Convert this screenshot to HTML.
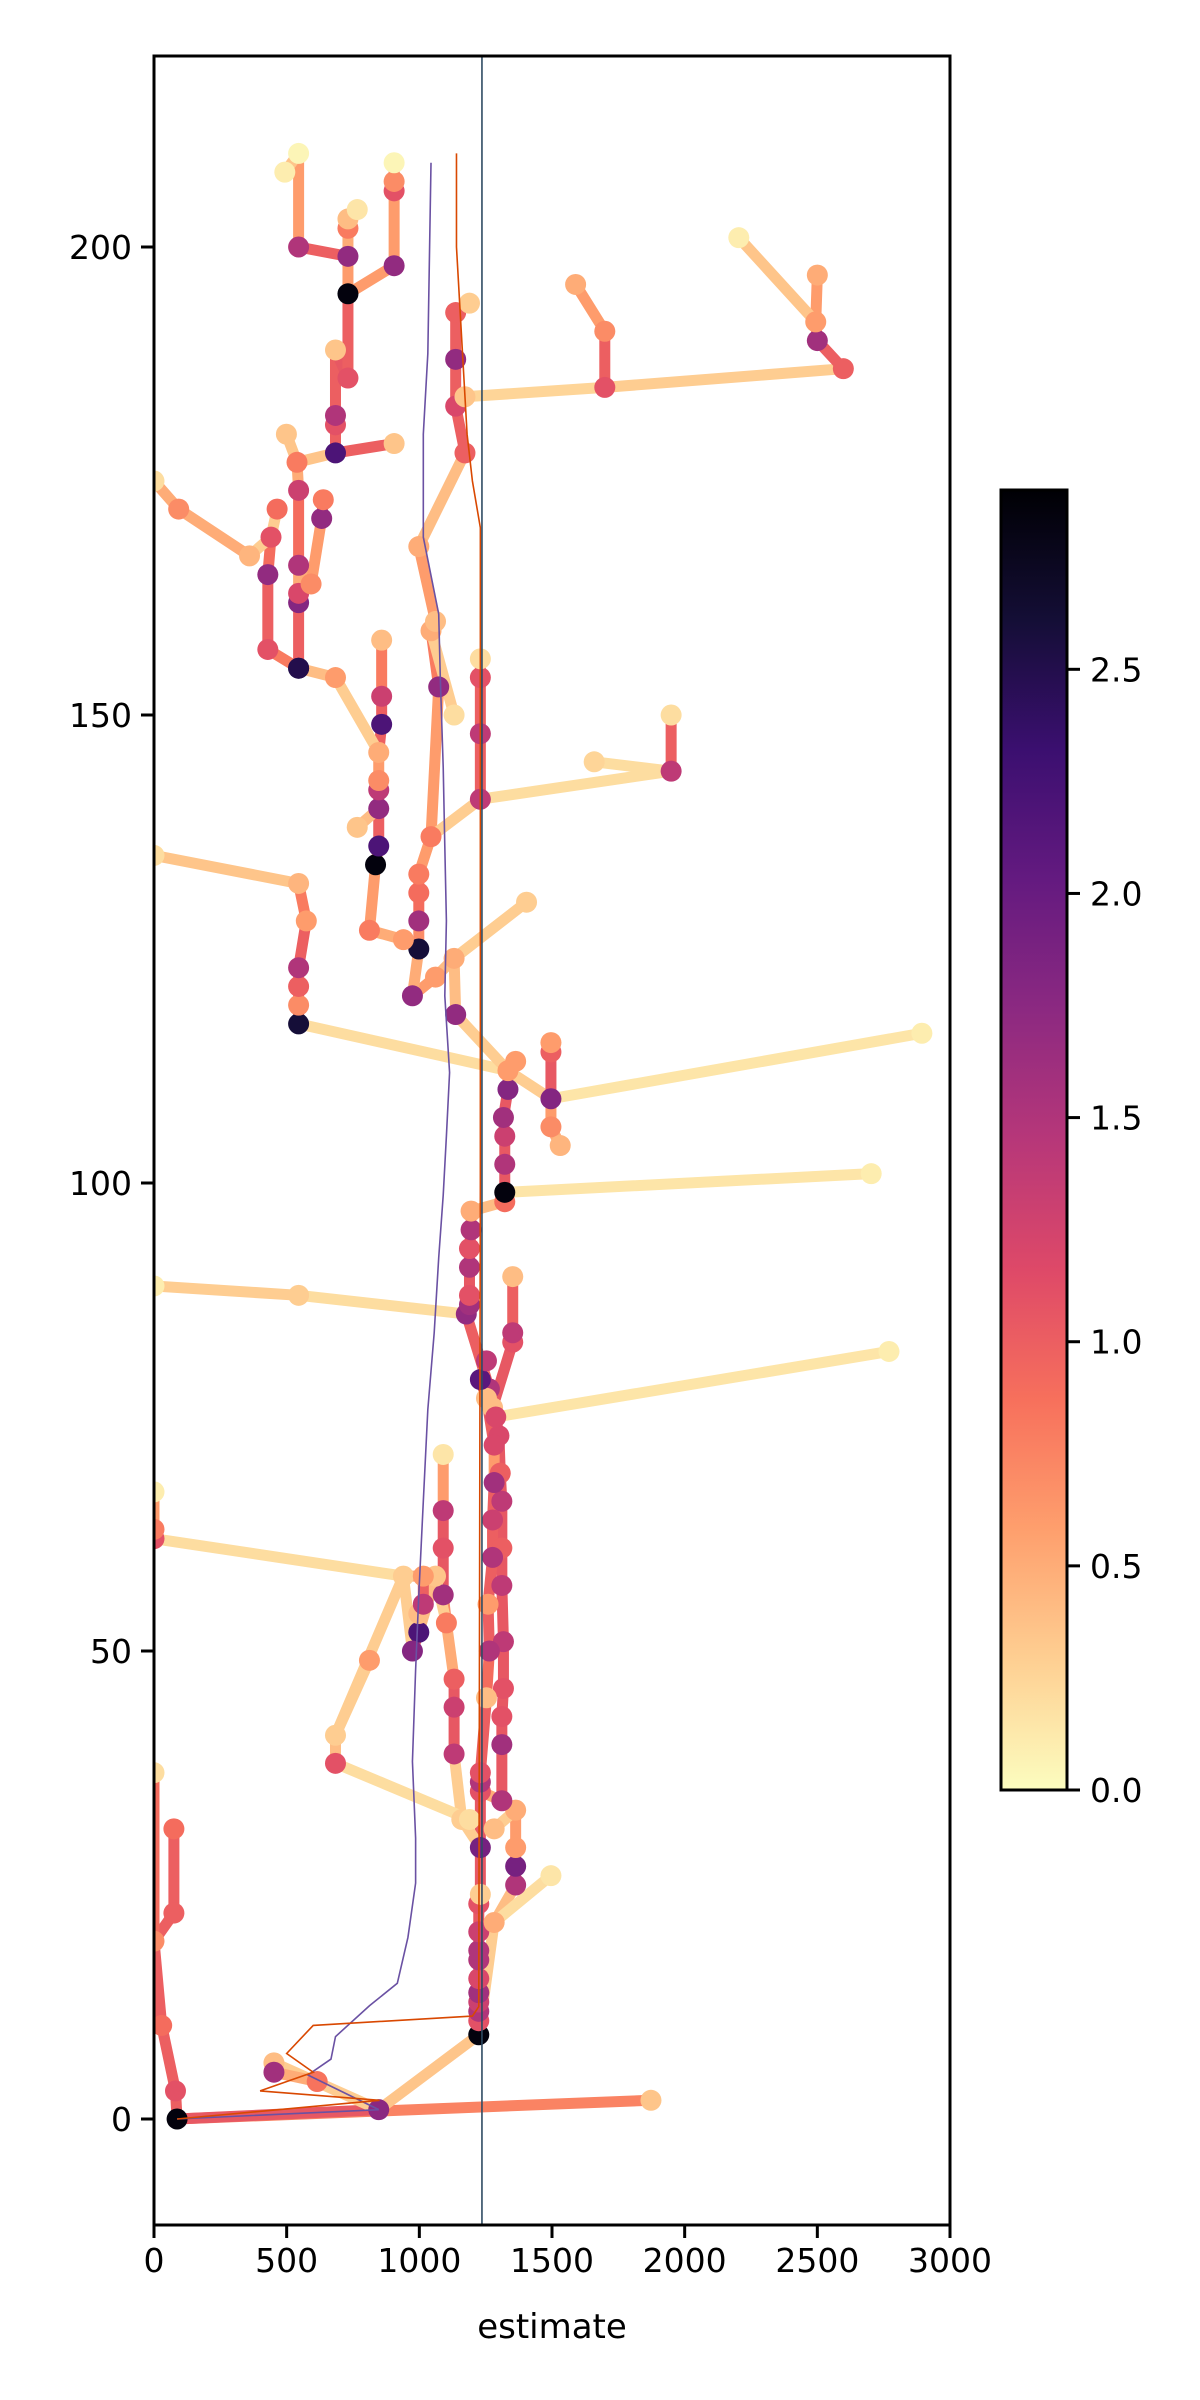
<!DOCTYPE html>
<html><head><meta charset="utf-8"><style>
html,body{margin:0;padding:0;background:#fff;}
svg{display:block;font-family:"DejaVu Sans","Liberation Sans",sans-serif;}
</style></head>
<body>
<svg id="chart" width="1200" height="2400" viewBox="0 0 1200 2400" xmlns="http://www.w3.org/2000/svg">
<defs>
<linearGradient id="cbgrad" x1="0" y1="1" x2="0" y2="0">
<stop offset="0" stop-color="#fcfdbf"/><stop offset="0.1" stop-color="#fecf92"/><stop offset="0.2" stop-color="#fe9f6d"/><stop offset="0.3" stop-color="#f7705c"/><stop offset="0.4" stop-color="#de4968"/><stop offset="0.5" stop-color="#b73779"/><stop offset="0.6" stop-color="#8c2981"/><stop offset="0.7" stop-color="#641a80"/><stop offset="0.8" stop-color="#3b0f70"/><stop offset="0.9" stop-color="#140e36"/><stop offset="1" stop-color="#000004"/>
</linearGradient>
<clipPath id="plotclip"><rect x="154" y="56" width="796" height="2169"/></clipPath>
</defs>
<g id="marks" clip-path="url(#plotclip)"></g>
<rect x="154" y="56" width="796" height="2169" fill="none" stroke="#000" stroke-width="3"/>
<g id="axes"></g>
<rect x="1001" y="490" width="66" height="1300" fill="url(#cbgrad)" stroke="#000" stroke-width="3"/>
<g id="cbaxis"></g>
<text x="552" y="2338" font-size="34" text-anchor="middle">estimate</text>
</svg>
<script>
// data: node estimate, iteration, color value, parent node, segment value
const estimates=[87,1873,847,452,452,615,81,29,0,75,75,0,1224,1224,1224,1224,1224,1224,1224,1224,1224,1224,1230,1230,1230,1230,1230,1282,1363,1363,1363,1363,1496,1282,1311,1311,1311,1317,1317,1311,1311,1311,1305,1300,1276,1264,1160,1131,1131,1131,1102,1090,1090,1090,1090,1061,998,974,998,940,1015,1015,684,684,812,1189,0,0,0,1177,1189,1189,1189,1189,1195,1195,1322,1322,1322,1322,1317,1334,1334,1363,1352,1352,1352,545,0,2770,1288,2703,1496,1496,1496,1496,1531,2894,545,545,545,545,574,545,0,1137,1131,1061,974,998,1404,940,812,998,998,998,1044,835,847,847,847,766,847,847,858,858,858,684,545,1073,1044,1061,1230,1230,1230,1230,1949,1949,1659,1131,998,1172,1137,1137,1137,1189,1172,1699,1699,1589,2598,2500,2494,2500,2204,545,429,429,441,464,360,93,0,545,545,545,592,632,638,545,539,499,684,905,684,684,684,731,731,731,731,731,766,545,545,493,905,905,905,905,1253,1264,1259,1276,1276,1282,1282,1253,1230,1253];
const iterations=[0,2,1,6,5,4,3,10,19,22,31,37,9,10.5,11.5,12.5,13.5,15,17,18,20,23,24,29,35,36,37,21,25,27,29,33,26,31,34,40,43,46,51,57,61,66,69,73,76,78,32,39,44,47,53,56,61,65,71,58,52,50,54,58,58,55,41,38,49,32,62,63,67,86,87,88,91,93,95,97,98,99,102,105,107,110,112,113,83,84,90,88,89,82,75,101,109,114,115,106,104,116,117,119,121,123,128,132,135,118,124,122,120,125,130,126,127,128,131,133,137,134,136,140,142,138,143,146,149,152,158,154,155,153,159,160,141,148,154,156,144,150,145,150,168,178,183,188,193,194,184,185,191,196,187,190,192,197,201,155,157,165,169,172,167,172,175,162,163,166,164,171,173,174,177,180,178,179,181,182,189,186,195,199,202,203,204,200,210,208,198,206,207,209,45,50,55,60,64,68,72,77,79,81];
const colorValues=[2.85,0.35,1.75,0.4,1.6,0.85,1.1,0.9,0.7,1.0,0.9,0.2,2.85,1.1,1.5,1.3,1.6,1.2,1.5,1.5,1.3,1.1,0.3,1.9,1.1,1.5,1.1,0.5,1.5,1.9,0.6,0.5,0.15,0.4,1.5,1.6,1.1,1.1,1.4,1.4,1.0,1.4,1.0,1.2,0.4,1.5,0.3,1.4,1.3,1.0,0.8,1.6,1.1,1.4,0.15,0.35,2.2,1.8,0.4,0.3,0.6,1.4,0.3,1.1,0.6,0.2,1.1,0.8,0.1,1.7,1.6,1.1,1.5,1.1,1.5,0.5,0.9,2.85,1.5,1.3,1.6,1.8,0.6,0.6,1.1,1.4,0.4,0.3,0.1,0.1,1.2,0.1,1.8,1.0,0.6,0.7,0.45,0.1,2.6,0.7,1.0,1.5,0.6,0.45,0.2,1.7,0.5,0.6,1.7,2.6,0.3,0.6,0.8,1.6,0.9,0.8,0.8,2.85,2.2,1.7,1.4,0.35,0.7,0.5,2.2,1.3,0.4,0.6,2.5,1.7,0.5,0.4,1.4,1.4,1.1,0.2,1.4,0.2,0.25,0.2,0.5,1.0,1.2,1.7,1.0,0.3,0.35,1.1,0.7,0.5,1.0,1.6,0.6,0.5,0.1,2.5,1.1,1.7,1.1,0.9,0.45,0.7,0.2,1.8,1.2,1.5,0.7,1.7,0.8,1.3,0.8,0.35,2.2,0.35,1.1,1.5,0.35,1.1,2.85,1.7,0.8,0.4,0.15,1.5,0.05,0.1,1.7,1.1,0.7,0.05,0.4,1.5,0.6,1.5,1.3,1.6,1.2,0.4,2.1,1.4];
const parents=[-1,0,0,2,3,4,0,6,7,8,9,8,2,12,13,14,15,16,17,18,19,20,21,22,23,24,25,12,27,28,29,30,27,31,24,34,35,36,37,38,39,40,41,42,43,44,23,46,47,48,49,50,51,52,53,50,55,56,57,57,59,60,59,62,62,63,59,66,67,45,69,70,71,72,73,74,75,76,77,78,79,80,81,82,44,84,85,69,87,90,43,77,82,92,93,92,95,92,82,98,99,100,101,102,103,82,105,106,107,108,106,109,111,109,113,114,115,112,117,118,119,119,120,122,123,124,125,123,127,116,129,130,116,132,133,134,132,136,136,130,131,140,141,142,143,144,142,146,147,148,147,150,151,152,152,128,155,156,157,158,158,160,161,128,163,164,165,166,167,165,169,170,170,172,172,174,175,176,177,178,179,180,181,179,183,184,178,186,187,188,26,190,191,192,193,194,195,196,197,198];
const segmentValues=[0,0.75,1.05,0.3,0.9,0.5,1.0,1.0,1.0,1.0,1.0,0.9,0.35,1.05,1.05,1.05,1.05,1.05,1.05,1.05,1.05,1.05,0.9,1.05,1.05,1.05,1.05,0.3,0.4,1.05,1.0,0.6,0.2,0.3,0.5,1.05,1.05,1.05,1.05,1.05,1.05,1.05,1.05,1.05,0.6,1.0,0.3,0.3,1.05,1.05,0.5,0.7,1.05,1.05,0.6,0.3,0.4,1.0,0.6,0.3,0.5,1.0,0.3,0.4,0.3,0.2,0.2,1.0,0.6,1.0,1.05,1.05,1.05,1.05,1.05,0.5,0.4,1.0,1.05,1.05,1.05,1.05,0.5,1.0,1.05,1.05,1.0,0.2,0.3,0.15,1.0,0.15,0.3,1.05,1.0,0.6,0.5,0.15,0.2,1.0,1.0,1.0,1.0,0.8,0.35,0.3,0.4,0.4,0.6,0.5,0.3,0.4,0.5,0.7,0.9,0.8,0.6,0.6,0.5,1.0,1.0,0.4,1.0,0.6,1.0,1.0,0.8,0.3,0.4,0.6,0.8,0.6,0.3,1.0,1.0,0.8,0.2,1.0,0.2,0.3,0.6,0.4,1.0,1.0,1.0,0.4,0.5,0.25,1.0,0.6,0.3,1.0,0.7,0.6,0.35,0.7,0.8,1.0,0.9,0.3,0.3,0.5,0.5,1.0,1.0,0.5,0.5,0.6,1.0,0.9,0.5,0.35,0.35,1.0,1.0,0.5,1.0,1.05,1.0,0.6,0.5,0.4,0.4,1.0,0.6,0.35,0.6,0.6,0.5,0.9,1.0,0.9,1.0,1.0,1.0,1.0,0.6,1.0,1.0];
const meanX=[87,847,580,667,684,812,917,957,986,986,974,986,998,1015,1032,1056,1073,1090,1102,1114,1096,1102,1096,1090,1079,1073,1015,1015,1032,1044];
const meanY=[0,1,4.7,6.4,8.8,12.1,14.5,19.4,25.2,30,38.2,48,56,66,75.8,84,92,98.7,105,111.8,120,128,136,144.4,154,160.8,169,180,188.6,209];
const medianX=[87,850,400,600,500,600,1200,1224,1230,1230,1200,1180,1160,1140,1140];
const medianY=[0,2,3,5,7,10,11,12,100,170,175,180,190,200,210];
const refEstimate=1236;
const xTicks=[0,500,1000,1500,2000,2500,3000];
const yTicks=[0,50,100,150,200];
const cbTicks=[0.0,0.5,1.0,1.5,2.0,2.5];

const NS="http://www.w3.org/2000/svg";
const X0=154,X1=950,Y0=2119,PXY=9.36,VMAX=2.9;
function xs(v){return X0+v/3000*(X1-X0);}
function ys(v){return Y0-v*PXY;}
const stops=["#000004","#140e36","#3b0f70","#641a80","#8c2981","#b73779","#de4968","#f7705c","#fe9f6d","#fecf92","#fcfdbf"];
function hex(h){return [1,3,5].map(i=>parseInt(h.substr(i,2),16));}
function cmap(v){
 if(typeof v!=='number'||!isFinite(v)) v=0.8;
 let t=1-Math.max(0,Math.min(1,v/VMAX));let p=t*10,i=Math.max(0,Math.min(9,Math.floor(p))),f=p-i;
 const a=hex(stops[i]),b=hex(stops[i+1]);return "rgb("+a.map((c,k)=>Math.round(c+(b[k]-c)*f)).join(",")+")";}
function mk(tag,attrs,parent){const e=document.createElementNS(NS,tag);for(const k in attrs)e.setAttribute(k,attrs[k]);parent.appendChild(e);return e;}

const N=Math.min(estimates.length,iterations.length,parents.length);
const marks=document.getElementById('marks');
for(let i=0;i<N;i++){
 const p=parents[i]; if(p==null||p<0||p>=N)continue;
 const l=mk('line',{x1:xs(estimates[p]),y1:ys(iterations[p]),x2:xs(estimates[i]),y2:ys(iterations[i]),stroke:cmap(segmentValues[i]),'stroke-width':11,'stroke-linecap':'round'},marks);
 
 
}
for(let i=0;i<N;i++){
 const c=mk('circle',{cx:xs(estimates[i]),cy:ys(iterations[i]),r:10.5,fill:cmap(colorValues[i])},marks);
 
 
}
const mp=mk('polyline',{points:meanX.map((v,i)=>xs(v)+','+ys(meanY[i])).join(' '),fill:'none',stroke:'#6a51a3','stroke-width':1.6},marks);


const md=mk('polyline',{points:medianX.map((v,i)=>xs(v)+','+ys(medianY[i])).join(' '),fill:'none',stroke:'#d94801','stroke-width':1.6},marks);


const vl=mk('line',{x1:xs(refEstimate),x2:xs(refEstimate),y1:56,y2:2225,stroke:'#2f4b63','stroke-width':1.6},marks);



const axes=document.getElementById('axes');
xTicks.forEach(t=>{
 const tk=mk('line',{x1:xs(t),x2:xs(t),y1:2225,y2:2238,stroke:'#000','stroke-width':3},axes);
 
 
 const tx=mk('text',{x:xs(t),y:2272,'font-size':33,'text-anchor':'middle'},axes);tx.textContent=t;
 
 
});
yTicks.forEach(t=>{
 const tk=mk('line',{x1:141,x2:154,y1:ys(t),y2:ys(t),stroke:'#000','stroke-width':3},axes);
 
 
 const tx=mk('text',{x:132,y:ys(t)+12,'font-size':33,'text-anchor':'end'},axes);tx.textContent=t;
 
 
});
const cb=document.getElementById('cbaxis');
cbTicks.forEach(t=>{
 const y=1790-t/VMAX*1300;
 const tk=mk('line',{x1:1067,x2:1080,y1:y,y2:y,stroke:'#000','stroke-width':3},cb);
 
 
 const tx=mk('text',{x:1090,y:y+12,'font-size':33},cb);tx.textContent=t.toFixed(1);
 
 
});
</script>
</body></html>
